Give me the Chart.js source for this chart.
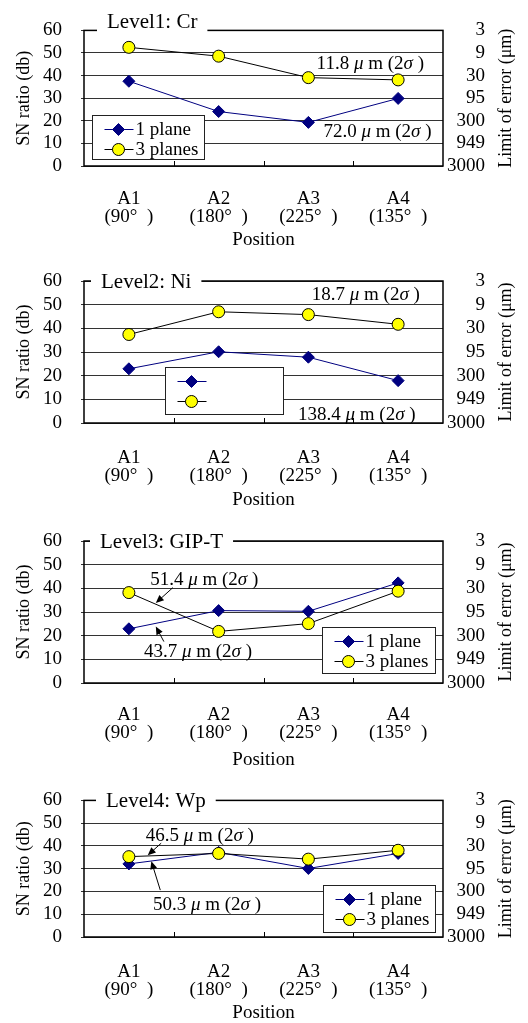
<!DOCTYPE html>
<html>
<head>
<meta charset="utf-8">
<script src="https://cdn.jsdelivr.net/npm/chart.js@4/dist/chart.umd.min.js"></script>
<style>
  body { margin: 0; background: #fff; }
  canvas { display: block; }
</style>
</head>
<body>
<canvas id="c1" width="528" height="250"></canvas>
<canvas id="c2" width="528" height="260"></canvas>
<canvas id="c3" width="528" height="260"></canvas>
<canvas id="c4" width="528" height="253"></canvas>
<script>
// ============ DATA ============
const positionLabels = [['A1', '(90°  )'], ['A2', '(180°  )'], ['A3', '(225°  )'], ['A4', '(135°  )']];
const errorTickLabels = ['3000', '949', '300', '95', '30', '9', '3']; // right axis, 0 -> 60 db
const seriesNames = ['1 plane', '3 planes'];
const panelTitles = ['Level1: Cr', 'Level2: Ni', 'Level3: GIP-T', 'Level4: Wp'];

// SN ratio (db)
const onePlaneCr = [37.5, 24.1, 19.3, 29.9];
const threePlanesCr = [52.5, 48.6, 39.1, 38.1];
const onePlaneNi = [22.9, 30.1, 27.8, 17.9];
const threePlanesNi = [37.4, 47.0, 45.8, 41.7];
const onePlaneGip = [22.9, 30.6, 30.3, 42.3];
const threePlanesGip = [38.2, 21.8, 25.1, 38.8];
const onePlaneWp = [32.1, 37.2, 30.1, 36.7];
const threePlanesWp = [35.3, 36.7, 34.2, 38.1];

// limit of error (um, 2 sigma): [3 planes, 1 plane]
const limitCr = ['11.8', '72.0'];
const limitNi = ['18.7', '138.4'];
const limitGip = ['51.4', '43.7'];
const limitWp = ['46.5', '50.3'];

const FONT = '"Liberation Serif", "Times New Roman", serif';
Chart.defaults.font.family = FONT;
Chart.defaults.color = '#000';

// ============ PANELS ============
const panels = [
  { id: 'c1', top: 27, xH: 84, labelPad: 16, titleDx: 23, titleDy: -2, title: panelTitles[0],
    one: onePlaneCr, three: threePlanesCr, names: seriesNames,
    legend: { dx: 8, dy: 85, w: 112, h: 44 },
    notes: [{ text: limitCr[0], x: 2.69, y: 45.2 }, { text: limitCr[1], x: 2.77, y: 15.2 }],
    arrows: [] },
  { id: 'c2', top: 31, xH: 87, labelPad: 18, titleDx: 17, titleDy: 7, title: panelTitles[1],
    one: onePlaneNi, three: threePlanesNi, names: ['', ''],
    legend: { dx: 81, dy: 86, w: 118, h: 47 },
    notes: [{ text: limitNi[0], x: 2.64, y: 54.1 }, { text: limitNi[1], x: 2.54, y: 3.5 }],
    arrows: [] },
  { id: 'c3', top: 31, xH: 87, labelPad: 15, titleDx: 16, titleDy: 7, title: panelTitles[2],
    one: onePlaneGip, three: threePlanesGip, names: seriesNames,
    legend: { dx: 238, dy: 86, w: 113, h: 46 },
    notes: [{ text: limitGip[0], x: 0.84, y: 43.7 }, { text: limitGip[1], x: 0.77, y: 13.3 }],
    arrows: [{ from: [0.49, 40.3], to: [0.30, 33.8] }, { from: [0.39, 17.5], to: [0.30, 23.9] }] },
  { id: 'c4', top: 25, xH: 86, labelPad: 18, titleDx: 22, titleDy: 7, title: panelTitles[3],
    one: onePlaneWp, three: threePlanesWp, names: seriesNames,
    legend: { dx: 239, dy: 85, w: 112, h: 47 },
    notes: [{ text: limitWp[0], x: 0.79, y: 44.5 }, { text: limitWp[1], x: 0.87, y: 14.1 }],
    arrows: [{ from: [0.36, 41.2], to: [0.21, 35.9] }, { from: [0.35, 20.6], to: [0.25, 33.3] }] }
];

const onePlaneStyle = { pointStyle: 'rectRot', radius: 6, rotation: 0, borderWidth: 1, fill: '#000080', stroke: '#000080' };
const threePlanesStyle = { pointStyle: 'circle', radius: 6, rotation: 0, borderWidth: 1, fill: '#ffff00', stroke: '#000000' };

function drawNote(ctx, text, cx, cy) {
  const runs = [[text + ' ', false], ['μ', true], [' m (2', false], ['σ', true], [' )', false]];
  ctx.textBaseline = 'middle';
  ctx.textAlign = 'left';
  let total = 0;
  runs.forEach(r => { ctx.font = (r[1] ? 'italic ' : '') + '19px ' + FONT; total += ctx.measureText(r[0]).width; });
  let x = cx - total / 2;
  runs.forEach(r => {
    ctx.font = (r[1] ? 'italic ' : '') + '19px ' + FONT;
    ctx.fillText(r[0], x, cy);
    x += ctx.measureText(r[0]).width;
  });
}

function drawArrow(ctx, x1, y1, x2, y2) {
  const ang = Math.atan2(y2 - y1, x2 - x1);
  const len = 8, half = 3.5;
  ctx.beginPath();
  ctx.moveTo(x1, y1);
  ctx.lineTo(x2 - Math.cos(ang) * len * 0.8, y2 - Math.sin(ang) * len * 0.8);
  ctx.stroke();
  ctx.beginPath();
  ctx.moveTo(x2, y2);
  ctx.lineTo(x2 - Math.cos(ang) * len + Math.sin(ang) * half, y2 - Math.sin(ang) * len - Math.cos(ang) * half);
  ctx.lineTo(x2 - Math.cos(ang) * len - Math.sin(ang) * half, y2 - Math.sin(ang) * len + Math.cos(ang) * half);
  ctx.closePath();
  ctx.fill();
}

const decorPlugin = {
  id: 'decor',
  afterDraw(chart, args, opts) {
    const p = opts.panel;
    const { ctx, chartArea: a } = chart;
    const xs = chart.scales.x, ys = chart.scales.y;
    ctx.save();
    ctx.strokeStyle = '#000';
    ctx.fillStyle = '#000';

    // frame
    ctx.lineWidth = 1.5;
    ctx.strokeRect(a.left, a.top, a.right - a.left, a.bottom - a.top);

    // inner tick marks between categories
    ctx.lineWidth = 1;
    for (let i = 0; i < positionLabels.length - 1; i++) {
      const x = Math.round((xs.getPixelForValue(i) + xs.getPixelForValue(i + 1)) / 2) + 0.5;
      ctx.beginPath();
      ctx.moveTo(x, a.bottom);
      ctx.lineTo(x, a.bottom - 5);
      ctx.stroke();
    }

    // panel title breaking the top border
    ctx.font = '21px ' + FONT;
    const tx = a.left + p.titleDx;
    const tw = ctx.measureText(p.title).width;
    ctx.fillStyle = '#fff';
    ctx.fillRect(tx - 10, a.top - 3, tw + 20, 6);
    ctx.fillStyle = '#000';
    ctx.textAlign = 'left';
    ctx.textBaseline = 'alphabetic';
    ctx.fillText(p.title, tx, a.top + p.titleDy);

    // right axis title, read bottom to top
    ctx.save();
    ctx.translate(506, (a.top + a.bottom) / 2);
    ctx.rotate(-Math.PI / 2);
    ctx.font = '18px ' + FONT;
    ctx.textAlign = 'center';
    ctx.textBaseline = 'middle';
    ctx.fillText('Limit of error (μm)', 0, 0);
    ctx.restore();

    // notes and arrows
    p.notes.forEach(n => drawNote(ctx, n.text, xs.getPixelForValue(n.x), ys.getPixelForValue(n.y)));
    ctx.lineWidth = 1;
    p.arrows.forEach(ar => drawArrow(ctx,
      xs.getPixelForValue(ar.from[0]), ys.getPixelForValue(ar.from[1]),
      xs.getPixelForValue(ar.to[0]), ys.getPixelForValue(ar.to[1])));

    // legend box
    const L = p.legend;
    const bx = Math.round(a.left + L.dx) + 0.5, by = Math.round(a.top + L.dy) + 0.5;
    ctx.fillStyle = '#fff';
    ctx.fillRect(bx, by, L.w, L.h);
    ctx.strokeStyle = '#222';
    ctx.lineWidth = 1;
    ctx.strokeRect(bx, by, L.w, L.h);
    [onePlaneStyle, threePlanesStyle].forEach((s, i) => {
      const ry = by + (i === 0 ? 14 : 34);
      ctx.strokeStyle = s.stroke;
      ctx.beginPath();
      ctx.moveTo(bx + 12, ry);
      ctx.lineTo(bx + 41, ry);
      ctx.stroke();
      ctx.fillStyle = s.fill;
      ctx.strokeStyle = s.stroke;
      Chart.helpers.drawPoint(ctx, s, bx + 26, ry);
      ctx.fillStyle = '#000';
      ctx.font = '19px ' + FONT;
      ctx.textAlign = 'left';
      ctx.textBaseline = 'middle';
      ctx.fillText(p.names[i], bx + 43, ry + 1);
    });
    ctx.restore();
  }
};

function makeChart(p) {
  const ctx = document.getElementById(p.id).getContext('2d');
  return new Chart(ctx, {
    type: 'line',
    data: {
      labels: positionLabels,
      datasets: [
        {
          label: seriesNames[0], data: p.one, order: 1,
          borderColor: '#000080', borderWidth: 1,
          pointStyle: onePlaneStyle.pointStyle, pointRadius: onePlaneStyle.radius,
          pointBackgroundColor: onePlaneStyle.fill, pointBorderColor: onePlaneStyle.stroke, pointBorderWidth: 1
        },
        {
          label: seriesNames[1], data: p.three, order: 0,
          borderColor: '#000', borderWidth: 1,
          pointStyle: threePlanesStyle.pointStyle, pointRadius: threePlanesStyle.radius,
          pointBackgroundColor: threePlanesStyle.fill, pointBorderColor: threePlanesStyle.stroke, pointBorderWidth: 1
        }
      ]
    },
    options: {
      responsive: false,
      animation: false,
      events: [],
      layout: { padding: { top: p.top, left: 0, right: 43, bottom: 0 } },
      plugins: {
        legend: { display: false },
        tooltip: { enabled: false },
        decor: { panel: p }
      },
      scales: {
        x: {
          offset: true,
          grid: { display: false },
          border: { display: false },
          ticks: { font: { size: 19, lineHeight: 0.95 }, padding: p.labelPad, maxRotation: 0, autoSkip: false },
          title: { display: true, text: 'Position', font: { size: 19, lineHeight: 1 }, padding: 0 },
          afterFit(s) { s.height = p.xH; }
        },
        y: {
          position: 'left',
          min: 0, max: 60,
          grid: { color: '#333', lineWidth: 1, tickLength: 3 },
          border: { display: false },
          ticks: { stepSize: 10, font: { size: 19 }, padding: 19, autoSkip: false },
          title: { display: true, text: 'SN ratio (db)', font: { size: 18, lineHeight: 1 }, padding: { top: 15, bottom: 0 } },
          afterFit(s) { s.width = 84; }
        },
        y2: {
          position: 'right',
          min: 0, max: 60,
          grid: { display: false },
          border: { display: false },
          ticks: { stepSize: 10, font: { size: 19 }, padding: 5, crossAlign: 'far', autoSkip: false,
            callback: v => errorTickLabels[Math.round(v / 10)] },
          afterFit(s) { s.width = 42; }
        }
      }
    },
    plugins: [decorPlugin]
  });
}

document.addEventListener('DOMContentLoaded', () => panels.forEach(makeChart));
</script>
</body>
</html>
